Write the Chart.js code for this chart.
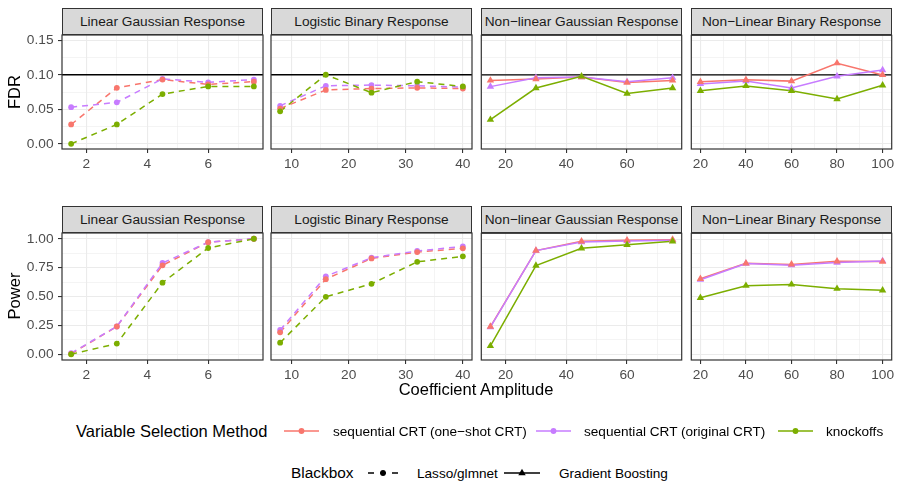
<!DOCTYPE html>
<html>
<head>
<meta charset="utf-8">
<script src="https://cdn.jsdelivr.net/npm/chart.js@4.4.1/dist/chart.umd.min.js"></script>
<style>
  body { margin: 0; width: 900px; height: 494px; background: #fff; position: relative; overflow: hidden;
         font-family: "Liberation Sans", Arial, sans-serif; }
  canvas { position: absolute; }
  .strip { position: absolute; box-sizing: border-box; background: #d9d9d9; border: 1px solid #333;
           color: #1a1a1a; font-size: 13.7px; display: flex; align-items: center; justify-content: center; white-space: nowrap; }
  .txt { position: absolute; white-space: nowrap; color: #000; }
  .axis-title { font-size: 16.5px; }
  .leg-title { font-size: 16.5px; }
  .leg-title.short { font-size: 15.4px; }
  .leg-label { font-size: 13.6px; }
  svg { position: absolute; overflow: visible; }
</style>
</head>
<body>
<script>
// ---- data ----
const METHODS = ['sequential CRT (one\u2212shot CRT)', 'sequential CRT (original CRT)', 'knockoffs'];
const BLACKBOXES = ['Lasso/glmnet', 'Gradient Boosting'];
const SETTINGS = ['Linear Gaussian Response', 'Logistic Binary Response',
                  'Non\u2212linear Gaussian Response', 'Non\u2212Linear Binary Response'];
const settingBlackbox = [0, 0, 1, 1];

const ampLinGauss = [1.5, 3, 4.5, 6, 7.5];
const ampLogistic = [8, 16, 24, 32, 40];
const ampNonlinGauss = [15, 30, 45, 60, 75];
const ampNonlinBinary = [20, 40, 60, 80, 100];

// rows: one-shot CRT, original CRT, knockoffs
const fdrLinGauss = [[0.028, 0.081, 0.093, 0.086, 0.090],
                     [0.053, 0.060, 0.094, 0.089, 0.093],
                     [0.000, 0.028, 0.072, 0.083, 0.083]];
const fdrLogistic = [[0.051, 0.078, 0.080, 0.081, 0.080],
                     [0.055, 0.084, 0.085, 0.084, 0.082],
                     [0.047, 0.100, 0.074, 0.090, 0.083]];
const fdrNonlinGauss = [[0.092, 0.094, 0.097, 0.089, 0.092],
                        [0.083, 0.096, 0.097, 0.090, 0.096],
                        [0.035, 0.081, 0.098, 0.073, 0.081]];
const fdrNonlinBinary = [[0.090, 0.093, 0.091, 0.117, 0.100],
                         [0.087, 0.091, 0.081, 0.098, 0.107],
                         [0.077, 0.084, 0.077, 0.065, 0.085]];

const powLinGauss = [[0.003, 0.24, 0.77, 0.97, 1.00],
                     [0.010, 0.24, 0.79, 0.97, 1.00],
                     [0.000, 0.092, 0.62, 0.92, 1.00]];
const powLogistic = [[0.19, 0.65, 0.83, 0.885, 0.917],
                     [0.21, 0.675, 0.836, 0.894, 0.934],
                     [0.10, 0.497, 0.61, 0.80, 0.848]];
const powNonlinGauss = [[0.24, 0.90, 0.98, 0.99, 0.995],
                        [0.235, 0.90, 0.974, 0.983, 0.99],
                        [0.072, 0.77, 0.92, 0.95, 0.98]];
const powNonlinBinary = [[0.655, 0.79, 0.78, 0.807, 0.805],
                         [0.647, 0.787, 0.773, 0.796, 0.81],
                         [0.49, 0.595, 0.606, 0.569, 0.555]];

const FDR_LEVEL = 0.1;

// ---- axis breaks ----
const xBreaks = [[2, 4, 6], [10, 20, 30, 40], [20, 40, 60], [20, 40, 60, 80, 100]];
const xMinor = [[3, 5, 7], [15, 25, 35], [30, 50, 70], [30, 50, 70, 90]];
const fdrBreaks = [0, 0.05, 0.10, 0.15];
const fdrMinor = [0.025, 0.075, 0.125];
const powBreaks = [0, 0.25, 0.50, 0.75, 1.00];
const powMinor = [0.125, 0.375, 0.625, 0.875];
const fdrLimits = [0, 0.15];
const powLimits = [0, 1];

// ---- styling / layout ----
const COLORS = ['#F8766D', '#C77CFF', '#7CAE00'];
const COL_LEFT = [62, 271, 481, 691];
const PANEL_W = 201;
const ROWS = [
  { stripTop: 8, top: 34, h: 115, label: 'FDR' },
  { stripTop: 206, top: 232, h: 128, label: 'Power' }
];
const FONT = '"Liberation Sans", Arial, sans-serif';

const amps = [ampLinGauss, ampLogistic, ampNonlinGauss, ampNonlinBinary];
const fdrData = [fdrLinGauss, fdrLogistic, fdrNonlinGauss, fdrNonlinBinary];
const powData = [powLinGauss, powLogistic, powNonlinGauss, powNonlinBinary];

const has = (arr, v) => arr.some(m => Math.abs(m - v) < 1e-9);

const panelFrame = {
  id: 'panelFrame',
  beforeDatasetsDraw(chart, args, opts) {
    if (opts.hline == null) return;
    const { ctx, chartArea: a } = chart;
    const y = chart.scales.y.getPixelForValue(opts.hline);
    ctx.save();
    ctx.strokeStyle = '#000';
    ctx.lineWidth = 1.4;
    ctx.beginPath(); ctx.moveTo(a.left, y); ctx.lineTo(a.right, y); ctx.stroke();
    ctx.restore();
  },
  afterDatasetsDraw(chart) {
    const { ctx, chartArea: a } = chart;
    ctx.save();
    ctx.strokeStyle = '#333';
    ctx.lineWidth = 1.2;
    ctx.strokeRect(a.left, a.top, a.right - a.left, a.bottom - a.top);
    ctx.restore();
  }
};

function buildDatasets(amp, rows, bb) {
  const ds = [];
  const lineOrder = [12, 11, 10];  // green line on top
  const pointOrder = [1, 2, 0];    // purple points under red, green on top
  rows.forEach((vals, m) => {
    const pts = amp.map((x, i) => ({ x, y: vals[i] }));
    ds.push({
      data: pts, order: lineOrder[m], borderColor: COLORS[m], borderWidth: 1.5,
      borderDash: bb === 0 ? [6, 5] : [], pointRadius: 0, tension: 0, fill: false
    });
    ds.push({
      data: pts, order: pointOrder[m], showLine: false,
      pointStyle: bb === 0 ? 'circle' : 'triangle',
      pointRadius: bb === 0 ? 2.9 : 4.3, pointBorderWidth: 0,
      pointBackgroundColor: COLORS[m], borderColor: COLORS[m]
    });
  });
  return ds;
}

function makePanel(r, c) {
  const row = ROWS[r];
  const first = c === 0;
  const L = first ? 58 : 4, R = 4, T = 3, B = 30;
  const amp = amps[c];
  const xr = amp[amp.length - 1] - amp[0];
  const xmin = amp[0] - 0.05 * xr, xmax = amp[amp.length - 1] + 0.05 * xr;
  const lim = r === 0 ? fdrLimits : powLimits;
  const yr = lim[1] - lim[0];
  const yMajor = r === 0 ? fdrBreaks : powBreaks;
  const yMinorArr = r === 0 ? fdrMinor : powMinor;
  const rows = r === 0 ? fdrData[c] : powData[c];

  const cv = document.createElement('canvas');
  cv.width = L + PANEL_W + R;
  cv.height = T + row.h + B;
  cv.style.left = (COL_LEFT[c] - L) + 'px';
  cv.style.top = (row.top - T) + 'px';
  document.body.appendChild(cv);

  const strip = document.createElement('div');
  strip.className = 'strip';
  strip.style.left = COL_LEFT[c] + 'px';
  strip.style.top = row.stripTop + 'px';
  strip.style.width = PANEL_W + 'px';
  strip.style.height = (row.top - row.stripTop + 1) + 'px';
  strip.textContent = SETTINGS[c];
  document.body.appendChild(strip);

  const tickFont = { family: FONT, size: 13.7 };
  new Chart(cv, {
    type: 'line',
    data: { datasets: buildDatasets(amp, rows, settingBlackbox[c]) },
    plugins: [panelFrame],
    options: {
      responsive: false, animation: false, events: [], devicePixelRatio: 1,
      layout: { padding: { left: first ? 0 : L, right: R, top: T, bottom: 0 } },
      plugins: { legend: { display: false }, tooltip: { enabled: false },
                 panelFrame: { hline: r === 0 ? FDR_LEVEL : null } },
      scales: {
        x: {
          type: 'linear', min: xmin, max: xmax,
          afterBuildTicks: s => { s.ticks = [...xBreaks[c], ...xMinor[c]].sort((a, b) => a - b).map(v => ({ value: v })); },
          afterFit: s => { s.height = B; s.paddingLeft = 0; s.paddingRight = 0; },
          border: { display: false },
          grid: {
            color: '#ebebeb',
            lineWidth: ctx => has(xBreaks[c], ctx.tick.value) ? 1.1 : 0.55,
            tickColor: ctx => has(xBreaks[c], ctx.tick.value) ? '#333' : 'rgba(0,0,0,0)',
            tickLength: 4, tickWidth: 1.1
          },
          ticks: {
            autoSkip: false, maxRotation: 0, padding: 3, color: '#4d4d4d', font: tickFont,
            callback: v => has(xBreaks[c], v) ? String(v) : ''
          }
        },
        y: {
          type: 'linear', min: lim[0] - 0.05 * yr, max: lim[1] + 0.05 * yr,
          afterBuildTicks: s => { s.ticks = [...yMajor, ...yMinorArr].sort((a, b) => a - b).map(v => ({ value: v })); },
          afterFit: s => { s.width = first ? L : 0; s.paddingTop = 0; s.paddingBottom = 0; },
          border: { display: false },
          grid: {
            color: '#ebebeb',
            lineWidth: ctx => has(yMajor, ctx.tick.value) ? 1.1 : 0.55,
            tickColor: ctx => has(yMajor, ctx.tick.value) ? '#333' : 'rgba(0,0,0,0)',
            drawTicks: first, tickLength: 4, tickWidth: 1.1
          },
          ticks: {
            display: first, autoSkip: false, padding: 4.5, color: '#4d4d4d', font: tickFont,
            callback: v => has(yMajor, v) ? v.toFixed(2) : ''
          }
        }
      }
    }
  });
}

for (let r = 0; r < 2; r++) for (let c = 0; c < 4; c++) makePanel(r, c);

// ---- axis titles ----
function addText(text, cls, x, y, opts = {}) {
  const d = document.createElement('div');
  d.className = 'txt ' + cls;
  d.textContent = text;
  d.style.left = x + 'px';
  d.style.top = y + 'px';
  d.style.transform = opts.rotate ? 'translate(-50%,-50%) rotate(-90deg)' :
                      (opts.center ? 'translate(-50%,-50%)' : 'translateY(-50%)');
  document.body.appendChild(d);
  return d;
}
ROWS.forEach(row => addText(row.label, 'axis-title', 14, row.top + row.h / 2, { rotate: true }));
addText('Coefficient Amplitude', 'axis-title', 476, 389, { center: true });

// ---- legends ----
function keySvg(x, y, w, color, dash, shape) {
  const ns = 'http://www.w3.org/2000/svg';
  const s = document.createElementNS(ns, 'svg');
  s.setAttribute('width', w); s.setAttribute('height', 12);
  s.style.left = x + 'px'; s.style.top = (y - 6) + 'px';
  const ln = document.createElementNS(ns, 'line');
  ln.setAttribute('x1', 0); ln.setAttribute('x2', w); ln.setAttribute('y1', 6); ln.setAttribute('y2', 6);
  ln.setAttribute('stroke', color); ln.setAttribute('stroke-width', 1.5);
  if (dash) ln.setAttribute('stroke-dasharray', dash);
  s.appendChild(ln);
  let mk;
  if (shape === 'triangle') {
    mk = document.createElementNS(ns, 'polygon');
    const cx = w / 2, r = 4.3;
    mk.setAttribute('points', `${cx},${6 - r} ${cx + r * 0.866},${6 + r / 2} ${cx - r * 0.866},${6 + r / 2}`);
  } else {
    mk = document.createElementNS(ns, 'circle');
    mk.setAttribute('cx', w / 2); mk.setAttribute('cy', 6); mk.setAttribute('r', 2.9);
  }
  mk.setAttribute('fill', color);
  s.appendChild(mk);
  document.body.appendChild(s);
}

const LEG1_Y = 431;
addText('Variable Selection Method', 'leg-title', 76, LEG1_Y);
const methodKeyX = [284, 536, 778];
const methodLabelX = [333, 584, 826];
METHODS.forEach((m, i) => {
  keySvg(methodKeyX[i], LEG1_Y, 35, COLORS[i], null, 'circle');
  addText(m, 'leg-label', methodLabelX[i], LEG1_Y);
});

const LEG2_Y = 473;
addText('Blackbox', 'leg-title short', 291, LEG2_Y);
keySvg(368, LEG2_Y, 30, '#000', '6 6', 'circle');
addText(BLACKBOXES[0], 'leg-label', 417, LEG2_Y);
keySvg(504, LEG2_Y, 36, '#000', null, 'triangle');
addText(BLACKBOXES[1], 'leg-label', 559, LEG2_Y);
</script>
</body>
</html>
